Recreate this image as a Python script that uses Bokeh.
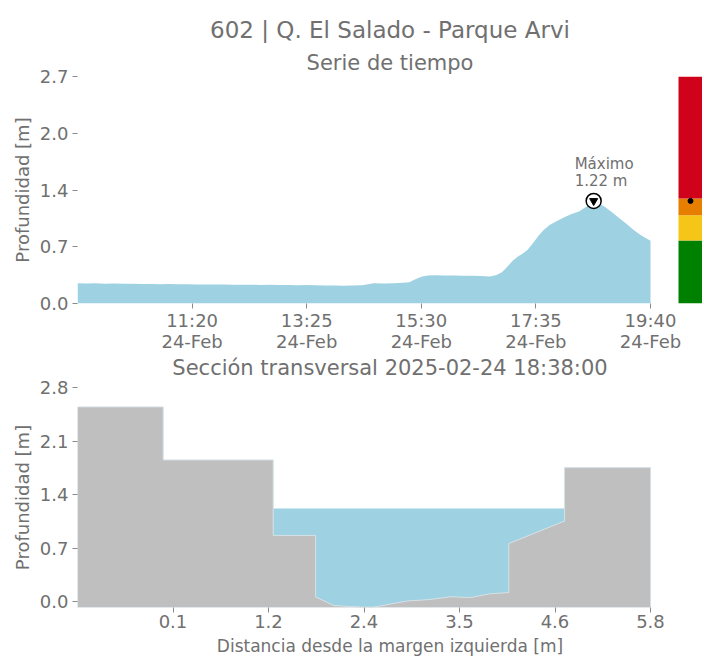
import numpy as np
import pandas as pd
from bokeh.plotting import figure
from bokeh.layouts import column
from bokeh.models import (Range1d, FixedTicker, PrintfTickFormatter,
                          DatetimeTickFormatter, Title, Label)
from bokeh.embed import file_html
from bokeh.resources import INLINE

# ---------------- data ----------------
station_title = "602 | Q. El Salado - Parque Arvi"
series_title = "Serie de tiempo"
section_title = "Sección transversal 2025-02-24 18:38:00"
day = "2025-02-24"

times = ["09:15", "09:25", "09:35", "09:45", "09:55", "10:05", "10:15", "10:25",
         "10:35", "10:45", "10:55", "11:05", "11:15", "11:25", "11:35", "11:45",
         "11:55", "12:05", "12:15", "12:25", "12:35", "12:45", "12:55", "13:05",
         "13:15", "13:25", "13:35", "13:45", "13:55", "14:05", "14:15", "14:25",
         "14:32", "14:38", "14:50", "15:00", "15:10", "15:17", "15:23", "15:30",
         "15:37", "15:45", "15:55", "16:05", "16:15", "16:25", "16:35", "16:45",
         "16:52", "16:58", "17:04", "17:10", "17:15", "17:20", "17:26", "17:32",
         "17:38", "17:44", "17:50", "17:58", "18:06", "18:14", "18:22", "18:30",
         "18:38", "18:44", "18:50", "18:58", "19:06", "19:14", "19:22", "19:30",
         "19:40"]
depth = [0.240, 0.238, 0.240, 0.236, 0.237, 0.234, 0.235, 0.232,
         0.233, 0.230, 0.231, 0.228, 0.229, 0.226, 0.227, 0.225,
         0.226, 0.224, 0.222, 0.224, 0.221, 0.222, 0.220, 0.221,
         0.218, 0.219, 0.216, 0.215, 0.213, 0.212, 0.214, 0.218,
         0.228, 0.240, 0.239, 0.242, 0.246, 0.252, 0.285, 0.318,
         0.333, 0.337, 0.334, 0.333, 0.330, 0.329, 0.327, 0.322,
         0.338, 0.372, 0.440, 0.510, 0.555, 0.590, 0.640, 0.720,
         0.810, 0.880, 0.935, 0.980, 1.025, 1.065, 1.095, 1.150,
         1.220, 1.190, 1.150, 1.085, 1.015, 0.945, 0.870, 0.810,
         0.745]

top_y_max = 2.7
level_bottoms = [0.0, 0.75, 1.05, 1.25]
level_tops = [0.75, 1.05, 1.25, 2.7]
level_colors = ["#008000", "#f5c518", "#e67e00", "#d0021b"]

dist = [-1.06, -0.037, -0.037, 1.276, 1.276, 1.781, 1.781, 2.000, 2.318,
        2.477, 2.876, 3.154, 3.393, 3.631, 3.870, 4.089, 4.089, 4.754,
        4.754, 5.780]
bed = [2.546, 2.546, 1.853, 1.853, 0.867, 0.867, 0.065, -0.050, -0.070,
       -0.070, 0.010, 0.030, 0.065, 0.055, 0.105, 0.120, 0.760, 1.055,
       1.753, 1.753]
water_level = 1.22
sec_y_min = -0.075
sec_y_max = 2.8

# ---------------- style ----------------
TXT = "#707070"
TICK = "#8a8a8a"
FONT = "DejaVu Sans"
WATER = "#9ed1e1"
GROUND = "#bfbfbf"

FRAME_W = 625      # frame includes the level bar strip at the right
PLOT_W = 573       # width used by data
BAR_W = 24

t = pd.to_datetime([f"{day} {x}" for x in times])
d = np.array(depth)
t0, t1 = t[0], t[-1]
span = t1 - t0
x_end = t0 + span * (FRAME_W / PLOT_W)

ipk = int(np.argmax(d))
t_pk, v_pk = t[ipk], d[ipk]


def style_axis(ax, label_size="18px"):
    ax.axis_line_color = None
    ax.major_tick_line_color = TICK
    ax.major_tick_out = 5
    ax.major_tick_in = 0
    ax.minor_tick_line_color = None
    ax.major_label_text_color = TXT
    ax.major_label_text_font = FONT
    ax.major_label_text_font_size = "18px"
    ax.axis_label_text_color = TXT
    ax.axis_label_text_font = FONT
    ax.axis_label_text_font_style = "normal"
    ax.axis_label_text_font_size = label_size


# ---------------- top: time series ----------------
p1 = figure(frame_width=FRAME_W, frame_height=227, x_axis_type="datetime",
            output_backend="svg", toolbar_location=None,
            x_range=Range1d(t0, x_end), y_range=Range1d(0, top_y_max),
            min_border_left=77, min_border_right=0, min_border_top=76,
            min_border_bottom=40)
p1.outline_line_color = None
p1.grid.visible = False

# level bar occupies the right-most BAR_W pixels of the frame
p1.extra_x_ranges = {"bar": Range1d(-(FRAME_W - BAR_W) / BAR_W, 1)}

p1.varea(x=t, y1=0, y2=d, fill_color=WATER)
p1.scatter([t_pk], [v_pk], marker="circle", size=15, fill_color="white",
           line_color="black", line_width=1.5)
p1.scatter([t_pk], [v_pk], marker="inverted_triangle", size=8,
           fill_color="black", line_color="black")
p1.add_layout(Label(x=t_pk.value / 1e6, y=v_pk, text=f"Máximo\n{v_pk:.2f} m",
                    x_offset=-19, y_offset=11, text_align="left",
                    text_baseline="bottom", text_font=FONT,
                    text_font_size="15px", text_color=TXT,
                    text_line_height=0.95))

p1.quad(left=0, right=1, bottom=level_bottoms, top=level_tops,
        fill_color=level_colors, line_color=None, x_range_name="bar")
p1.scatter([0.5], [v_pk], size=5, color="black", x_range_name="bar")

style_axis(p1.xaxis[0])
style_axis(p1.yaxis[0])
p1.xaxis.ticker = FixedTicker(ticks=[x.value / 1e6 for x in
                                     pd.date_range(t0, t1, periods=6)[1:]])
fmt = "%H:%M\n%d-%b"
p1.xaxis.formatter = DatetimeTickFormatter(
    seconds=fmt, minsec=fmt, minutes=fmt, hourmin=fmt, hours=fmt, days=fmt,
    months=fmt, years=fmt)
p1.xaxis.major_label_standoff = 1
p1.xaxis.major_label_text_line_height = 1.0
p1.yaxis.ticker = FixedTicker(ticks=list(np.linspace(0, top_y_max, 5)))
p1.yaxis.formatter = PrintfTickFormatter(format="%.1f")
p1.yaxis.major_label_standoff = 4
p1.yaxis.axis_label = "Profundidad [m]"
p1.yaxis.axis_label_standoff = 4

p1.add_layout(Title(text=series_title, align="center", text_font=FONT,
                    text_font_size="21px", text_font_style="normal",
                    text_color=TXT, standoff=4), "above")
p1.add_layout(Title(text=station_title, align="center", text_font=FONT,
                    text_font_size="23px", text_font_style="normal",
                    text_color=TXT, standoff=7), "above")

# ---------------- bottom: cross section ----------------
dx0, dx1 = dist[0], dist[-1]
p2 = figure(frame_width=FRAME_W, frame_height=220,
            output_backend="svg", toolbar_location=None,
            x_range=Range1d(dx0, dx0 + (dx1 - dx0) * FRAME_W / PLOT_W),
            y_range=Range1d(sec_y_min, sec_y_max),
            min_border_left=77, min_border_right=0, min_border_top=30,
            min_border_bottom=52, margin=(-9, 0, 0, 0))
p2.outline_line_color = None
p2.grid.visible = False
p2.border_fill_color = None
p2.background_fill_color = None

bed_a = np.array(bed)
p2.varea(x=dist, y1=bed_a, y2=np.maximum(bed_a, water_level), fill_color=WATER)
p2.patch(x=dist + [dist[-1], dist[0]], y=bed + [sec_y_min, sec_y_min],
         fill_color=GROUND, line_color="#d3e0e6", line_width=1)

style_axis(p2.xaxis[0], label_size="17px")
style_axis(p2.yaxis[0])
p2.xaxis.ticker = FixedTicker(ticks=list(np.linspace(dx0, dx1, 7)[1:]))
p2.xaxis.formatter = PrintfTickFormatter(format="%.1f")
p2.xaxis.major_label_standoff = 2
p2.xaxis.axis_label = "Distancia desde la margen izquierda [m]"
p2.xaxis.axis_label_standoff = 5
p2.yaxis.ticker = FixedTicker(ticks=list(np.linspace(0, sec_y_max, 5)))
p2.yaxis.formatter = PrintfTickFormatter(format="%.1f")
p2.yaxis.major_label_standoff = 4
p2.yaxis.axis_label = "Profundidad [m]"
p2.yaxis.axis_label_standoff = 4

p2.add_layout(Title(text=section_title, align="center", text_font=FONT,
                    text_font_size="21px", text_font_style="normal",
                    text_color=TXT, standoff=16), "above")

layout = column(p1, p2, spacing=0)
open("out.html", "w").write(file_html(layout, INLINE))
